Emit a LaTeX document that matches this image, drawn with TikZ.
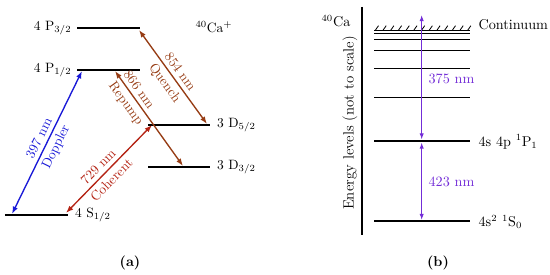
\documentclass[tikz,border=0pt]{standalone}
\usepackage{amsmath}
\usepackage{xcolor}
\usepackage{tikz}
\usetikzlibrary{arrows.meta,calc,positioning}
\definecolor{cablue}{RGB}{25,25,215}
\definecolor{cabrown}{RGB}{150,60,20}
\definecolor{cared}{RGB}{180,35,20}
\definecolor{caviolet}{RGB}{115,45,215}
\tikzset{
  calevel/.style={line width=1.4pt},
  caline/.style={line width=0.8pt},
  cahatch/.style={line width=0.6pt},
  caaxis/.style={line width=1.5pt},
  caedge/.style={{Latex[length=5.5pt,width=4pt]}-{Latex[length=5.5pt,width=4pt]},line width=1pt},
  caedgethin/.style={{Latex[length=4.5pt,width=3.2pt]}-{Latex[length=4.5pt,width=3.2pt]},line width=0.8pt},
  calabel/.style={inner sep=2.8pt},
  canote/.style={inner sep=1pt},
  cbnote/.style={inner sep=1pt,anchor=west,font=\fontsize{10.5pt}{12pt}\selectfont},
  caaxislabel/.style={inner sep=1pt,rotate=90,font=\fontsize{11pt}{13pt}\selectfont},
  cacaption/.style={font=\fontsize{10.5pt}{12pt}\selectfont\bfseries}
}

\begin{document}
\begin{tikzpicture}[x=0.026cm,y=-0.026cm]
  \useasboundingbox (0,0) rectangle (550,275);

  % Ca+ levels
  \coordinate (P32a) at (77,28);   \coordinate (P32b) at (140,28);
  \coordinate (P12a) at (77,70);   \coordinate (P12b) at (140,70);
  \coordinate (D52a) at (148,125); \coordinate (D52b) at (210,125);
  \coordinate (D32a) at (148,167); \coordinate (D32b) at (210,167);
  \coordinate (S12a) at (5,215);   \coordinate (S12b) at (68,215);
  \draw[calevel] (P32a) -- (P32b);
  \draw[calevel] (P12a) -- (P12b);
  \draw[calevel] (D52a) -- (D52b);
  \draw[calevel] (D32a) -- (D32b);
  \draw[calevel] (S12a) -- (S12b);
  \node[canote,left=3pt of P32a] (P32) {4 P$_{3/2}$};
  \node[canote,left=3pt of P12a] (P12) {4 P$_{1/2}$};
  \node[canote,right=4pt of D52b] (D52) {3 D$_{5/2}$};
  \node[canote,right=4pt of D32b] (D32) {3 D$_{3/2}$};
  \node[canote,right=4pt of S12b] (S12) {4 S$_{1/2}$};
  \node[canote] (ion) at (214,27) {$^{40}$Ca$^{+}$};

  % transitions
  \coordinate (dopl) at (12,214);  \coordinate (dopu) at (82,71);
  \coordinate (cohl) at (66,213);  \coordinate (cohu) at (152,125);
  \coordinate (repu) at (115,71);  \coordinate (repl) at (183,166);
  \coordinate (quu) at (139,30);   \coordinate (qul) at (207,124);
  \draw[caedge,cablue] (dopl) -- node[calabel,above,sloped] (l397) {397 nm}
    node[calabel,below,sloped] (dop) {Doppler} (dopu);
  \draw[caedge,cared] (cohl) -- node[calabel,above,sloped,pos=0.45] (l729) {729 nm}
    node[calabel,below,sloped,pos=0.45] (coh) {Coherent} (cohu);
  \draw[caedge,cabrown] (repu) -- node[calabel,above,sloped,pos=0.25] (l866) {866 nm}
    node[calabel,below,sloped,pos=0.28] (rep) {Repump} (repl);
  \draw[caedge,cabrown] (quu) -- node[calabel,above,sloped] (l854) {854 nm}
    node[calabel,below,sloped] (que) {Quench} (qul);
  \node[cacaption] (capa) at (130,263) {(a)};

  % neutral Ca
  \coordinate (axt) at (362,7); \coordinate (axb) at (362,235);
  \draw[caaxis] (axt) -- (axb);
  \node[canote,font=\fontsize{10.5pt}{12pt}\selectfont] (atom) at (336,21) {$^{40}$Ca};
  \node[caaxislabel] (elev) at (350,123) {Energy levels (not to scale)};
  \foreach \y in {30.7,33.3,39.3,50.7,68.3,97.3}
    \draw[caline] (374,\y) -- (470,\y);
  \foreach \x in {375,382.7,...,468}
    \draw[cahatch] (\x,30.7) -- ++(3.5,-5);
  \coordinate (Pa) at (374,141); \coordinate (Pb) at (470,141);
  \coordinate (Sa) at (374,221); \coordinate (Sb) at (470,221);
  \draw[caline] (Pa) -- (Pb);
  \draw[caline] (Sa) -- (Sb);
  \node[cbnote] (cont) at (477,25) {Continuum};
  \node[cbnote] (P1) at (477,142) {4s 4p $^{1}$P$_{1}$};
  \node[cbnote] (S0) at (477,222) {4s$^{2}$ $^{1}$S$_{0}$};
  \coordinate (ionu) at (421.7,15);  \coordinate (ionl) at (421.7,139.5);
  \coordinate (exu) at (421.7,142.5); \coordinate (exl) at (421.7,220);
  \draw[caedgethin,caviolet] (ionl) -- (ionu);
  \draw[caedgethin,caviolet] (exl) -- (exu);
  \node[cbnote,text=caviolet] (l375) at (427,79) {375 nm};
  \node[cbnote,text=caviolet] (l423) at (427,182) {423 nm};
  \node[cacaption] (capb) at (438,263) {(b)};
\end{tikzpicture}
\end{document}
